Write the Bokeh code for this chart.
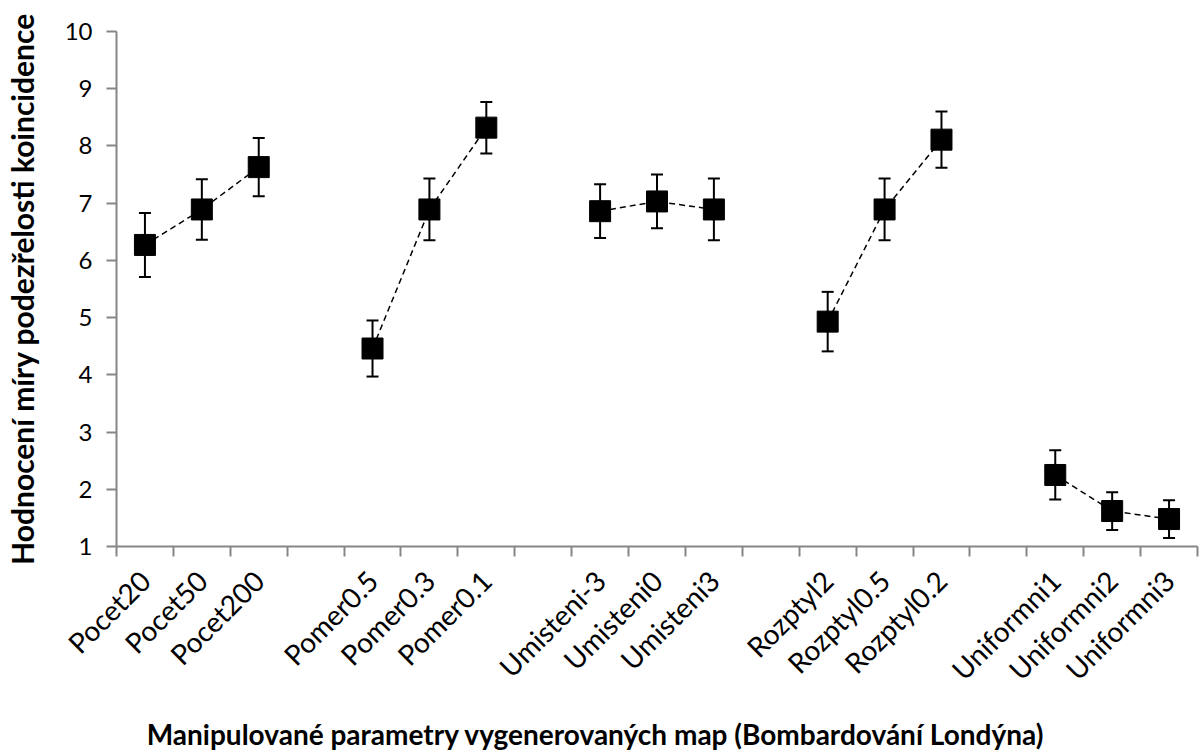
import math
from bokeh.plotting import figure
from bokeh.models import (ColumnDataSource, Range1d, FixedTicker, Whisker,
                          TeeHead)
from bokeh.embed import file_html
from bokeh.resources import INLINE

# Groups of manipulated map parameters, three conditions each
groups = ["Pocet", "Pomer", "Umisteni", "Rozptyl", "Uniformni"]
categories = [
    "Pocet20", "Pocet50", "Pocet200",
    "Pomer0.5", "Pomer0.3", "Pomer0.1",
    "Umisteni-3", "Umisteni0", "Umisteni3",
    "Rozptyl2", "Rozptyl0.5", "Rozptyl0.2",
    "Uniformni1", "Uniformni2", "Uniformni3",
]
# Mean rating and error-bar half-width for each condition
means = [6.27, 6.89, 7.63,
         4.46, 6.89, 8.32,
         6.86, 7.03, 6.89,
         4.93, 6.89, 8.11,
         2.25, 1.62, 1.48]
errors = [0.56, 0.53, 0.51,
          0.49, 0.54, 0.45,
          0.47, 0.47, 0.54,
          0.52, 0.54, 0.49,
          0.43, 0.33, 0.33]
y_ticks = [1, 2, 3, 4, 5, 6, 7, 8, 9, 10]

x_title = "Manipulované parametry vygenerovaných map (Bombardování Londýna)"
y_title = "Hodnocení míry podezřelosti koincidence"

FONT = "Lato"
AXIS_GREY = "#868686"

# Each group takes three slots followed by one empty slot; slot i spans
# [2i, 2i+2] so that slot centres are odd integers.
per_group = 3
n_slots = len(groups) * (per_group + 1) - 1
xs = []
for gi in range(len(groups)):
    for k in range(per_group):
        slot = gi * (per_group + 1) + k
        xs.append(2 * slot + 1)

lower = [m - e for m, e in zip(means, errors)]
upper = [m + e for m, e in zip(means, errors)]
src = ColumnDataSource(dict(x=xs, y=means, lower=lower, upper=upper,
                            name=categories))

p = figure(width=1203, height=754,
           x_range=Range1d(0, 2 * n_slots), y_range=Range1d(1, 10),
           output_backend="svg", toolbar_location=None,
           min_border_left=115, min_border_right=6,
           min_border_top=31, min_border_bottom=208)
p.outline_line_color = None
p.xgrid.visible = False
p.ygrid.visible = False
p.background_fill_color = "white"
p.border_fill_color = "white"

# error bars (drawn underneath the markers)
whisk = Whisker(source=src, base="x", lower="lower", upper="upper",
                line_color="black", line_width=2,
                upper_head=TeeHead(size=12, line_color="black", line_width=2),
                lower_head=TeeHead(size=12, line_color="black", line_width=2))
p.add_layout(whisk)

# dashed connectors within each group
line_xs = [xs[g * per_group:(g + 1) * per_group] for g in range(len(groups))]
line_ys = [means[g * per_group:(g + 1) * per_group] for g in range(len(groups))]
p.multi_line(line_xs, line_ys, line_color="black", line_width=1.5,
             line_dash="6 4")

p.scatter("x", "y", source=src, marker="square", size=21,
          fill_color="black", line_color="black")

# y axis
ya = p.yaxis[0]
ya.ticker = FixedTicker(ticks=y_ticks, minor_ticks=[])
ya.axis_line_color = AXIS_GREY
ya.axis_line_width = 2
ya.major_tick_line_color = AXIS_GREY
ya.major_tick_line_width = 2
ya.major_tick_out = 10
ya.major_tick_in = 0
ya.minor_tick_out = 0
ya.minor_tick_in = 0
ya.major_label_text_font = FONT
ya.major_label_text_font_size = "24px"
ya.major_label_text_color = "black"
ya.major_label_standoff = 14
ya.axis_label = y_title
ya.axis_label_text_font = FONT
ya.axis_label_text_font_size = "30px"
ya.axis_label_text_font_style = "bold"
ya.axis_label_text_color = "black"
ya.axis_label_standoff = 22

# x axis: labels at slot centres, tick marks on the slot boundaries
xa = p.xaxis[0]
xa.ticker = FixedTicker(ticks=xs, minor_ticks=list(range(0, 2 * n_slots + 1, 2)))
xa.major_label_overrides = {x: c for x, c in zip(xs, categories)}
xa.major_label_orientation = math.pi / 4
xa.axis_line_color = AXIS_GREY
xa.axis_line_width = 2
xa.major_tick_out = 0
xa.major_tick_in = 0
xa.minor_tick_line_color = AXIS_GREY
xa.minor_tick_line_width = 2
xa.minor_tick_out = 10
xa.minor_tick_in = 0
xa.major_label_text_font = FONT
xa.major_label_text_font_size = "28px"
xa.major_label_text_color = "black"
xa.major_label_standoff = 19

# the x title sits left of the frame centre: pad it on the right
xa.axis_label = x_title + "\u00a0" * 18
xa.axis_label_text_font = FONT
xa.axis_label_text_font_size = "28px"
xa.axis_label_text_font_style = "bold"
xa.axis_label_text_color = "black"
xa.axis_label_standoff = 16

open("out.html", "w").write(file_html(p, INLINE))
